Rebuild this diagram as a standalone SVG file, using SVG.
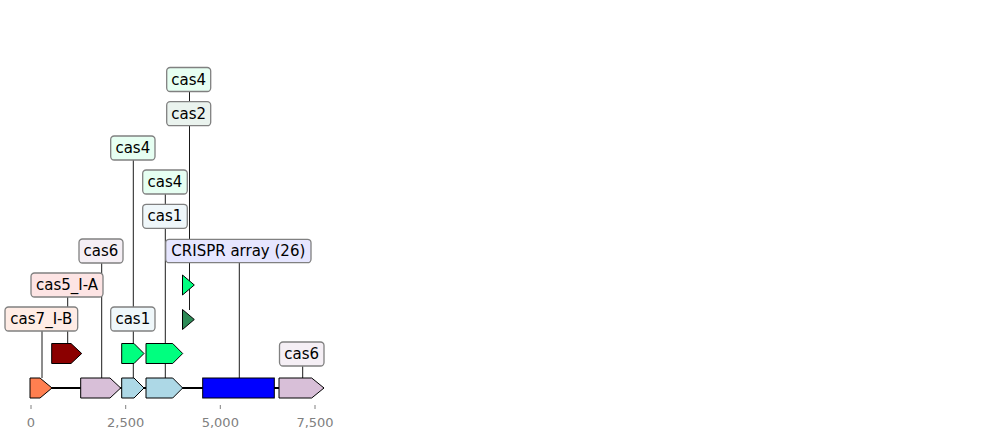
<svg xmlns="http://www.w3.org/2000/svg" width="987" height="439" viewBox="0 0 987 439">
<style>
.lbl rect{stroke:#808080;stroke-width:1.3}
.lbl text{font-family:"DejaVu Sans",sans-serif;font-size:15px;fill:#000;text-anchor:middle;dominant-baseline:central}
.gene{stroke:#000;stroke-width:1}
.conn line{stroke:#000;stroke-width:0.9}
.tick{stroke:#808080;stroke-width:1}
.tl{font-family:"DejaVu Sans",sans-serif;font-size:13px;fill:#808080;text-anchor:middle}
</style>
<rect width="987" height="439" fill="#fff"/>
<g id="connectors" class="conn">
<line x1="42" y1="331" x2="42" y2="378"/>
<line x1="67.7" y1="297" x2="67.7" y2="344"/>
<line x1="101.7" y1="263" x2="101.7" y2="378"/>
<line x1="133.3" y1="160" x2="133.3" y2="378"/>
<line x1="165.3" y1="194" x2="165.3" y2="378"/>
<line x1="189.5" y1="91.5" x2="189.5" y2="310"/>
<line x1="239.3" y1="263" x2="239.3" y2="378"/>
<line x1="302.7" y1="366" x2="302.7" y2="378"/>
</g>
<g id="backbone"><line x1="30" y1="388" x2="324" y2="388" stroke="#000" stroke-width="2"/></g>
<g id="genes">
<polygon id="g-cas7" class="gene" fill="#ff7f50" points="30,378 40,378 52,388 40,398 30,398"/>
<polygon id="g-cas6a" class="gene" fill="#d8bfd8" points="80.7,378 110,378 120.7,388 110,398 80.7,398"/>
<polygon id="g-lb1" class="gene" fill="#add8e6" points="121.7,378 134,378 144,388 134,398 121.7,398"/>
<polygon id="g-lb2" class="gene" fill="#add8e6" points="146,378 172.7,378 182.7,388 172.7,398 146,398"/>
<rect id="g-crispr" class="gene" fill="#0000ff" x="202.7" y="378" width="71.6" height="20"/>
<polygon id="g-cas6b" class="gene" fill="#d8bfd8" points="279,378 311.7,378 324,388 311.7,398 279,398"/>
<polygon id="g-cas5" class="gene" fill="#8b0000" points="51.7,343.5 71,343.5 81.7,353.5 71,363.5 51.7,363.5"/>
<polygon id="g-gr1" class="gene" fill="#00ff7f" points="121.7,343.5 134,343.5 144,353.5 134,363.5 121.7,363.5"/>
<polygon id="g-gr2" class="gene" fill="#00ff7f" points="146,343.5 172.7,343.5 182.7,353.5 172.7,363.5 146,363.5"/>
<polygon id="g-tri1" class="gene" fill="#2e8b57" points="182.5,309.5 194.3,319.5 182.5,329.5"/>
<polygon id="g-tri2" class="gene" fill="#00ff7f" points="182.5,275 194.3,285 182.5,295"/>
</g>
<g id="n-cas4-top" class="lbl"><rect x="166.7" y="67.5" width="44" height="24" rx="3.5" fill="#e6fff2"/><text x="188.7" y="79.5">cas4</text></g>
<g id="n-cas2" class="lbl"><rect x="166.7" y="101.7" width="44" height="24" rx="3.5" fill="#eaf3ee"/><text x="188.7" y="113.7">cas2</text></g>
<g id="n-cas4-left" class="lbl"><rect x="110.7" y="136" width="44.3" height="24" rx="3.5" fill="#e6fff2"/><text x="132.8" y="148">cas4</text></g>
<g id="n-cas4-mid" class="lbl"><rect x="142.7" y="170" width="44.6" height="24" rx="3.5" fill="#e6fff2"/><text x="165" y="182">cas4</text></g>
<g id="n-cas1-mid" class="lbl"><rect x="142.7" y="204.3" width="44.6" height="24" rx="3.5" fill="#eff7fa"/><text x="165" y="216.3">cas1</text></g>
<g id="n-cas6-left" class="lbl"><rect x="79" y="239" width="44" height="24" rx="3.5" fill="#f5eff5"/><text x="101" y="251">cas6</text></g>
<g id="n-crispr" class="lbl"><rect x="165.7" y="239.3" width="145.3" height="23.4" rx="3.5" fill="#e6e6ff"/><text x="238.3" y="251">CRISPR array (26)</text></g>
<g id="n-cas5" class="lbl"><rect x="31" y="273" width="72" height="24" rx="3.5" fill="#fde4e4"/><text x="67" y="285">cas5_I-A</text></g>
<g id="n-cas7" class="lbl"><rect x="5" y="307" width="72.7" height="24" rx="3.5" fill="#ffece5"/><text x="41.3" y="319">cas7_I-B</text></g>
<g id="n-cas1-low" class="lbl"><rect x="110.7" y="307" width="44.3" height="24" rx="3.5" fill="#eff7fa"/><text x="132.8" y="319">cas1</text></g>
<g id="n-cas6-right" class="lbl"><rect x="279.5" y="342" width="44.5" height="24" rx="3.5" fill="#f5eff5"/><text x="301.7" y="354">cas6</text></g>
<g id="axis">
<line class="tick" x1="31" y1="405" x2="31" y2="409"/>
<line class="tick" x1="125.7" y1="405" x2="125.7" y2="409"/>
<line class="tick" x1="220.3" y1="405" x2="220.3" y2="409"/>
<line class="tick" x1="315" y1="405" x2="315" y2="409"/>
<text class="tl" x="31" y="427">0</text>
<text class="tl" x="125.7" y="427">2,500</text>
<text class="tl" x="220.3" y="427">5,000</text>
<text class="tl" x="315" y="427">7,500</text>
</g>
</svg>
